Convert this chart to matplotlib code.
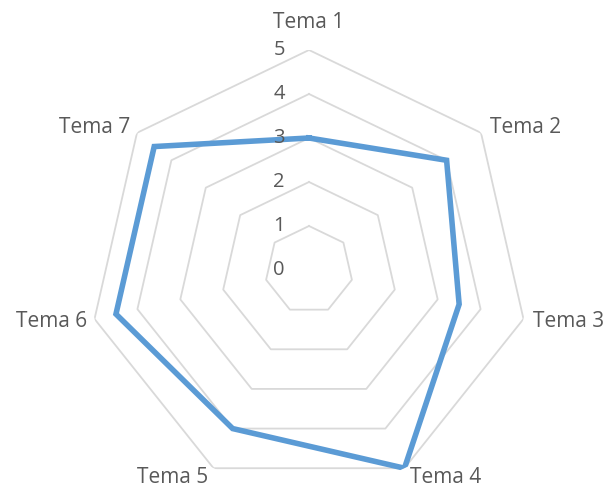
import numpy as np
from matplotlib import pyplot as plt

plt.rcParams["font.family"] = ["Open Sans", "DejaVu Sans"]

categories = ["Tema 1", "Tema 2", "Tema 3", "Tema 4", "Tema 5", "Tema 6", "Tema 7"]
scores = [3, 4, 3.5, 5, 4, 4.5, 4.5]
levels = [0, 1, 2, 3, 4, 5]

LINE_COLOR = "#5b9bd5"
GRID_COLOR = "#d9d9d9"
TEXT_COLOR = "#595959"

# where each category label sits relative to its outer vertex (pixels)
label_offsets = [
    ((0, 28), "center"),
    ((9, 5), "left"),
    ((10, -3), "left"),
    ((6, -9), "left"),
    ((-5, -9), "right"),
    ((-7, -3), "right"),
    ((-7, 5), "right"),
]

fig = plt.figure(figsize=(6.1, 4.87), dpi=100)
ax = fig.add_axes([89 / 610, -3 / 487, 440 / 610, 440 / 487], projection="polar")
ax.set_theta_zero_location("N")
ax.set_theta_direction(-1)
ax.set_ylim(0, 5)
ax.grid(False)
ax.set_xticks([])
ax.set_yticks([])
ax.spines["polar"].set_visible(False)
ax.patch.set_alpha(0)

n = len(categories)
angles = np.linspace(0, 2 * np.pi, n, endpoint=False)
closed = np.append(angles, angles[0])

# heptagon gridlines
for lvl in levels[1:]:
    ax.plot(closed, [lvl] * (n + 1), color=GRID_COLOR, lw=1.3, zorder=1)

ax.plot(closed, scores + scores[:1], color=LINE_COLOR, lw=4, zorder=3,
        solid_joinstyle="miter")

# radial value labels along the first axis, drawn over the series line
for lvl in levels:
    ax.annotate(
        str(lvl), xy=(0, lvl), xytext=(-24, 0), textcoords="offset pixels",
        ha="right", va="center", fontsize=14.5, color=TEXT_COLOR, zorder=5,
    )

for ang, name, (off, ha) in zip(angles, categories, label_offsets):
    ax.annotate(
        name, xy=(ang, 5), xytext=off, textcoords="offset pixels",
        ha=ha, va="center", fontsize=15, color=TEXT_COLOR,
        annotation_clip=False, zorder=5,
    )

plt.savefig("out.png", dpi=100)
